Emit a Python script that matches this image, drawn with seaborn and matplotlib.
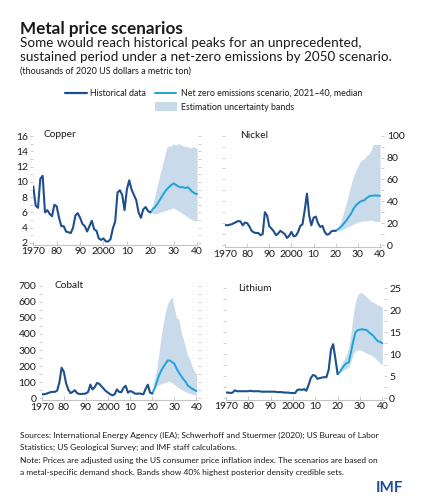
import numpy as np
import pandas as pd
import matplotlib
matplotlib.use("Agg")
import matplotlib.pyplot as plt
from matplotlib.ticker import MultipleLocator
import seaborn as sns

# ----------------------------
# DATA
# ----------------------------
hist_years = list(range(1970, 2021))
scen_years = list(range(2020, 2041))

copper_hist = [9.4, 6.9, 6.6, 10.4, 10.8, 6.0, 6.3, 5.8, 5.5, 7.0,
               6.8, 5.3, 4.2, 4.2, 3.5, 3.4, 3.3, 4.0, 5.6, 5.9,
               5.3, 4.5, 4.2, 3.5, 4.2, 4.9, 3.8, 3.6, 2.6, 2.4,
               2.6, 2.2, 2.2, 2.5, 3.9, 4.8, 8.6, 8.9, 8.3, 6.3,
               9.0, 10.2, 9.0, 8.3, 7.6, 6.0, 5.3, 6.4, 6.7, 6.2,
               6.0]
copper_med = [6.0, 6.4, 6.7, 7.1, 7.6, 8.1, 8.6, 9.0, 9.3, 9.6, 9.8,
              9.6, 9.4, 9.3, 9.3, 9.2, 9.3, 9.0, 8.7, 8.5, 8.4]
copper_hi = [6.0, 7.0, 8.2, 9.5, 10.8, 12.0, 13.2, 14.5, 14.7, 14.7, 15.0,
             14.8, 15.0, 14.9, 14.7, 14.6, 14.6, 14.4, 14.6, 14.5, 14.4]
copper_lo = [6.0, 5.9, 5.8, 5.9, 6.0, 6.1, 6.2, 6.3, 6.4, 6.5, 6.6,
             6.4, 6.2, 6.0, 5.8, 5.6, 5.4, 5.2, 5.0, 4.9, 4.9]

nickel_hist = [18.3, 18, 18.5, 19, 20, 21, 22, 21.5, 18, 20.5,
               20, 17, 13, 11.5, 11, 11, 9, 10, 30, 27,
               17, 15, 12.5, 9, 10.5, 13, 11.5, 10, 6.5, 8.5,
               12, 8, 8.5, 12, 17.5, 19, 32, 47, 27, 18,
               25, 26, 20, 16.5, 17.5, 12, 9.5, 10, 12.5, 13,
               13]
nickel_med = [13, 14.5, 16, 18, 20.5, 23, 26, 29, 33, 36, 38,
              39.5, 40.5, 41, 43, 44.5, 45, 45.2, 45.3, 45.2, 45]
nickel_hi = [13, 16, 20, 26, 33, 40, 48, 56, 63, 68, 72,
             76, 78, 79, 82, 83, 87, 92, 92, 92, 92]
nickel_lo = [13, 13, 13.5, 14, 15, 16, 17, 18, 19, 20, 21,
             21.5, 22, 22, 22, 22.5, 22.5, 22, 21.5, 21.5, 21]

cobalt_hist = [25, 25, 28, 33, 38, 40, 40, 48, 100, 190,
               165, 95, 55, 32, 40, 50, 32, 27, 27, 28,
               30, 40, 85, 55, 70, 95, 90, 75, 60, 45,
               35, 25, 18, 25, 55, 40, 38, 65, 78, 35,
               45, 40, 30, 28, 30, 28, 25, 58, 85, 35,
               30]
cobalt_med = [30, 60, 100, 140, 170, 195, 215, 235, 235, 225, 215,
              185, 160, 140, 120, 105, 80, 70, 60, 52, 45]
cobalt_hi = [30, 120, 180, 280, 380, 470, 540, 590, 615, 630, 560,
             500, 490, 420, 370, 320, 270, 240, 200, 170, 150]
cobalt_lo = [30, 60, 75, 85, 90, 95, 100, 105, 105, 95, 85,
             75, 65, 55, 48, 42, 35, 30, 25, 22, 20]

lithium_hist = [1.3, 1.3, 1.2, 1.3, 1.8, 1.6, 1.6, 1.6, 1.6, 1.6,
                1.6, 1.7, 1.6, 1.6, 1.6, 1.6, 1.5, 1.5, 1.5, 1.5,
                1.5, 1.5, 1.5, 1.4, 1.4, 1.4, 1.3, 1.3, 1.3, 1.2,
                1.2, 1.2, 1.9, 2.0, 1.9, 2.1, 1.7, 3.0, 4.6, 5.3,
                5.1, 4.4, 4.6, 4.7, 4.8, 4.8, 6.5, 11.0, 12.3, 9.0,
                5.5]
lithium_med = [5.5, 6.0, 6.8, 7.5, 8.0, 8.2, 10.5, 13.0, 15.0, 15.5, 15.6,
               15.7, 15.6, 15.5, 15.0, 14.6, 14.2, 13.5, 13.0, 12.8, 12.5]
lithium_hi = [5.5, 7.0, 8.0, 9.0, 10.0, 11.5, 15.0, 19.0, 22.0, 23.5, 24.0,
              24.0, 23.5, 23.0, 22.5, 22.0, 21.8, 21.5, 21.2, 21.0, 20.8]
lithium_lo = [5.5, 5.8, 6.2, 6.5, 6.8, 7.0, 8.5, 10.0, 10.8, 11.0, 11.0,
              10.8, 10.5, 10.2, 10.0, 9.8, 9.5, 9.0, 8.5, 8.0, 7.5]

x_ticks = [1970, 1980, 1990, 2000, 2010, 2020, 2030, 2040]
x_labels = ["1970", "80", "90", "2000", "10", "20", "30", "40"]

# ----------------------------
# STYLE
# ----------------------------
HIST_C = "#1d4f8c"
SCEN_C = "#1ea2d9"
BAND_C = "#c9dbeb"
TICK_C = "#c4c4c4"
TEXT_C = "#1a1a1a"

sns.set_theme(style="white")
plt.rcParams["font.family"] = ["Lato", "DejaVu Sans"]

W, H = 423, 500
fig = plt.figure(figsize=(4.23, 5.0), dpi=100)

# name, hist, median, high, low, ylim, major, minor, label side, rect, label x (year)
panels = [
    ("Copper", copper_hist, copper_med, copper_hi, copper_lo, (1.8, 16.2), 2, 1, "left",
     [0.0787, 0.511, 0.3905, 0.220], 1974.2),
    ("Nickel", nickel_hist, nickel_med, nickel_hi, nickel_lo, (-2, 100), 20, 10, "right",
     [0.532, 0.5056, 0.3695, 0.223], 1977),
    ("Cobalt", cobalt_hist, cobalt_med, cobalt_hi, cobalt_lo, (-10, 700), 100, 50, "left",
     [0.0986, 0.2002, 0.369, 0.2284], 1976),
    ("Lithium", lithium_hist, lithium_med, lithium_hi, lithium_lo, (-0.3, 25), 5, 2.5, "right",
     [0.534, 0.2008, 0.373, 0.2226], 1975.5),
]

for name, hist, med, hi, lo, ylim, major, minor, side, rect, lx in panels:
    ax = fig.add_axes(rect)
    hist_df = pd.DataFrame({"year": hist_years, "value": hist})
    scen_df = pd.DataFrame({"year": scen_years, "median": med, "hi": hi, "lo": lo})

    ax.fill_between(scen_df["year"], scen_df["lo"], scen_df["hi"],
                    color=BAND_C, linewidth=0, zorder=1)
    sns.lineplot(data=hist_df, x="year", y="value", ax=ax, color=HIST_C,
                 linewidth=1.5, zorder=3)
    sns.lineplot(data=scen_df, x="year", y="median", ax=ax, color=SCEN_C,
                 linewidth=1.4, zorder=2)

    ax.set_xlim(1970, 2040.6)
    ax.set_ylim(*ylim)
    ax.set_xlabel("")
    ax.set_ylabel("")
    ax.set_xticks(x_ticks)
    ax.set_xticklabels(x_labels)
    ax.yaxis.set_major_locator(MultipleLocator(major))
    ax.yaxis.set_minor_locator(MultipleLocator(minor))

    for s in ["top", "left", "right"]:
        ax.spines[s].set_visible(False)
    ax.spines["bottom"].set_color(TICK_C)
    ax.spines["bottom"].set_linewidth(0.8)

    if side == "right":
        ax.yaxis.tick_right()
    ax.tick_params(axis="y", which="both", left=True, right=True,
                   direction="out", length=2.5, width=0.6, color=TICK_C,
                   labelsize=7.5, labelcolor=TEXT_C, pad=1.5)
    ax.tick_params(axis="x", which="both", bottom=True, direction="in",
                   length=3, width=0.6, color=TICK_C, labelsize=7.5,
                   labelcolor=TEXT_C, pad=2)
    ax.grid(False)
    ax.patch.set_alpha(0)

    ax.text(lx, ylim[1], name, fontsize=7.3, color=TEXT_C,
            va="center", ha="left")

# ----------------------------
# TITLE BLOCK
# ----------------------------
fig.text(20 / W, 1 - 29 / H, "Metal price scenarios", fontsize=12.3,
         fontweight="bold", color=TEXT_C, va="center", ha="left")
fig.text(20 / W, 1 - 43 / H,
         "Some would reach historical peaks for an unprecedented,",
         fontsize=9.75, color=TEXT_C, va="center", ha="left")
fig.text(20 / W, 1 - 57 / H,
         "sustained period under a net-zero emissions by 2050 scenario.",
         fontsize=9.75, color=TEXT_C, va="center", ha="left")
fig.text(20 / W, 1 - 71 / H, "(thousands of 2020 US dollars a metric ton)",
         fontsize=6.5, color=TEXT_C, va="center", ha="left")

# ----------------------------
# LEGEND
# ----------------------------
fig.add_artist(plt.Line2D([65 / W, 87 / W], [1 - 93 / H, 1 - 93 / H],
                          color=HIST_C, linewidth=1.6))
fig.text(90 / W, 1 - 93 / H, "Historical data", fontsize=6.4, color=TEXT_C,
         va="center", ha="left")
fig.add_artist(plt.Line2D([155 / W, 176 / W], [1 - 93 / H, 1 - 93 / H],
                          color=SCEN_C, linewidth=1.4))
fig.text(181 / W, 1 - 93 / H, "Net zero emissions scenario, 2021\u201340, median",
         fontsize=6.4, color=TEXT_C, va="center", ha="left")
fig.add_artist(plt.Rectangle((155 / W, 1 - 111 / H), 22 / W, 9 / H,
                             color=BAND_C, linewidth=0))
fig.text(181 / W, 1 - 107 / H, "Estimation uncertainty bands", fontsize=6.4,
         color=TEXT_C, va="center", ha="left")

# ----------------------------
# FOOTER
# ----------------------------
footer = [
    "Sources: International Energy Agency (IEA); Schwerhoff and Stuermer (2020); US Bureau of Labor",
    "Statistics; US Geological Survey; and IMF staff calculations.",
    "Note: Prices are adjusted using the US consumer price inflation index. The scenarios are based on",
    "a metal-specific demand shock. Bands show 40% highest posterior density credible sets.",
]
for i, line in enumerate(footer):
    fig.text(20 / W, 1 - (435 + i * 12.5) / H, line, fontsize=6.05,
             color=TEXT_C, va="center", ha="left")

fig.text(403 / W, 1 - 488 / H, "IMF", fontsize=11, fontweight="bold",
         color="#1b4f9c", va="center", ha="right")

fig.savefig("out.png", dpi=100)
